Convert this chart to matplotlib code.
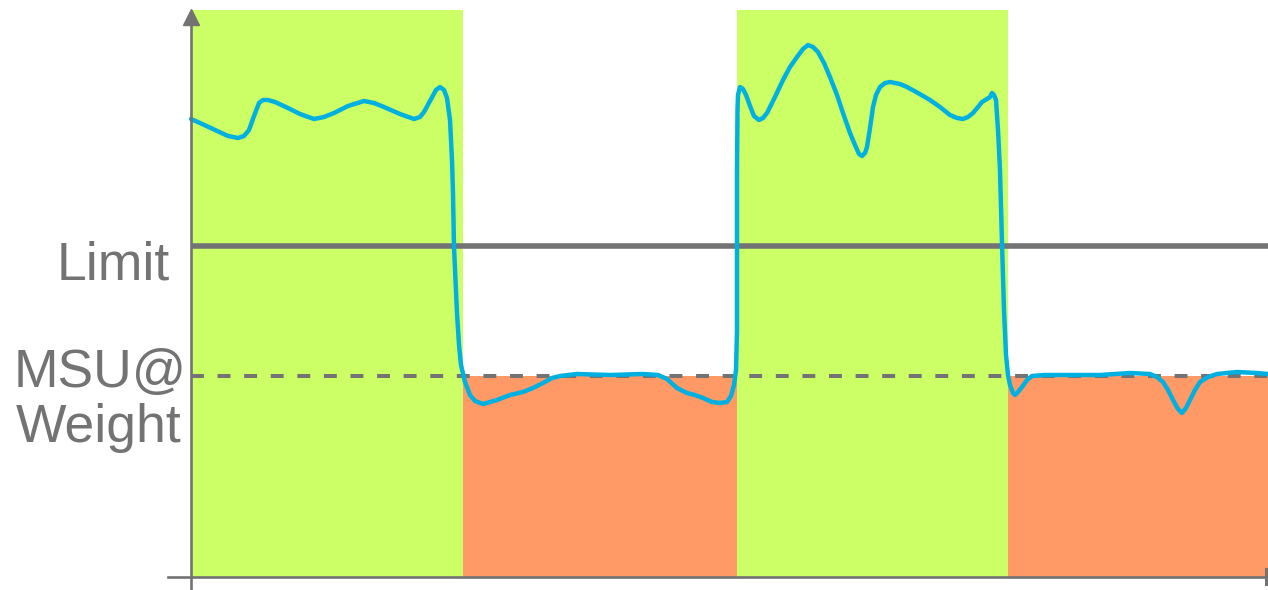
import numpy as np
import matplotlib
matplotlib.use('Agg')
import matplotlib.pyplot as plt

# ----------------------------------------------------------
# Load vs. limit sketch: high / low periods with measured curve
# ----------------------------------------------------------

# periods (time units) and their state
period_start = [0, 272, 546, 817]
period_end = [272, 546, 817, 1077]
period_high = [True, False, True, False]

limit = 331
msu_weight = 201
load_top = 567

# measured curve, split by period
tA = [0, 9, 24, 37, 47, 53, 58, 63, 68, 72, 77, 84, 97, 109, 123, 133, 143, 157,
      173, 183, 193, 209, 223, 229, 233, 239, 245, 249]
yA = [458, 454, 447, 441, 439, 441, 447, 461, 474, 477, 477, 475, 469, 463, 458, 460, 464, 471,
      476, 474, 470, 463, 458, 460, 465, 476, 487, 490]

tB = [253, 256, 259, 261, 262, 263, 265, 266, 268, 270, 274, 279, 284, 292, 299, 306, 319, 332,
      342, 352, 361, 369, 386, 419, 452, 467, 476, 486, 496, 504, 512, 521, 529, 536, 540, 543, 545]
yB = [487, 479, 457, 417, 384, 330, 287, 264, 232, 212, 195, 182, 176, 173, 175, 177, 182, 185,
      189, 194, 199, 201, 203, 202, 203, 202, 198, 189, 184, 182, 179, 175, 174, 175, 181, 192, 207]

tC = [546, 546, 546, 546.5, 547, 549, 552, 555, 559, 563, 568, 572, 576, 584, 592, 599, 606, 612,
      617, 622, 627, 633, 639, 646, 652, 659, 664, 668, 671, 674, 676, 679, 682, 685, 689, 694,
      699, 709, 716, 727, 739, 749, 759, 766, 772, 777, 782, 787, 791, 796, 799, 801, 803, 805]
yC = [247, 332, 407, 467, 482, 490, 488, 482, 471, 461, 457, 459, 464, 480, 497, 510, 520, 528,
      532, 530, 525, 514, 500, 482, 464, 444, 432, 423, 421, 424, 430, 449, 470, 482, 490, 494,
      495, 493, 490, 484, 477, 470, 462, 459, 458, 460, 464, 470, 475, 478, 480, 484, 482, 477]

tD = [807, 809, 811, 813, 815, 817, 819, 822, 824, 827, 831, 836, 841, 854, 866, 889, 909, 924,
      939, 959, 966, 972, 977, 982, 987, 991, 995, 999, 1004, 1009, 1017, 1026, 1046, 1066, 1077]
yD = [447, 407, 334, 267, 222, 202, 192, 184, 182, 185, 190, 197, 201, 202, 202, 202, 202, 203,
      204, 203, 200, 195, 187, 177, 168, 164, 169, 177, 187, 195, 200, 203, 205, 204, 203]

t = tA + tB + tC + tD
load = yA + yB + yC + yD

GREEN = '#ccff66'
ORANGE = '#ff9966'
BLUE = '#00b0e0'
GRAY = '#737373'

W, H = 1268, 590
fig = plt.figure(figsize=(W / 100, H / 100), dpi=100)
ax = fig.add_axes([191 / W, 13 / H, 1077 / W, 567 / H])
ax.set_xlim(0, 1077)
ax.set_ylim(0, load_top)
ax.axis('off')

# period backgrounds
widths = [e - s for s, e in zip(period_start, period_end)]
heights = [load_top if h else msu_weight for h in period_high]
colors = [GREEN if h else ORANGE for h in period_high]
ax.bar(period_start, heights, width=widths, align='edge', color=colors,
       linewidth=0, zorder=1)

# limit and MSU@Weight levels
ax.axhline(limit, color=GRAY, lw=4, zorder=3)
ax.axhline(msu_weight, color=GRAY, lw=2.9, dashes=(3.2, 3.4), zorder=3)

# load curve
ax.plot(t, load, color=BLUE, lw=3.2, solid_joinstyle='round',
        solid_capstyle='round', zorder=4, clip_on=False)

# axes lines with arrow / end tick
ax.plot([0, 0], [-13 / 567, 0.975], transform=ax.transAxes, color=GRAY, lw=1.9,
        clip_on=False, zorder=5)
ax.plot([0], [0.9868], transform=ax.transAxes, marker='^', ms=11.5, color=GRAY,
        clip_on=False, zorder=5)
ax.plot([-23 / 1077, 1.0], [0, 0], transform=ax.transAxes, color=GRAY, lw=1.9,
        clip_on=False, zorder=5)
ax.plot([1074.5 / 1077, 1074.5 / 1077], [-7 / 567, 8 / 567], transform=ax.transAxes,
        color=GRAY, lw=2.2, clip_on=False, zorder=5)

# labels
fs = 38.5
fig.text(57 / W, (H - 279) / H, 'Limit', fontsize=fs, color=GRAY,
         family='Liberation Sans', va='baseline', ha='left')
fig.text(14 / W, (H - 387) / H, 'MSU@', fontsize=fs, color=GRAY,
         family='Liberation Sans', va='baseline', ha='left')
fig.text(16 / W, (H - 442) / H, 'Weight', fontsize=fs, color=GRAY,
         family='Liberation Sans', va='baseline', ha='left')

fig.savefig('out.png', dpi=100)
